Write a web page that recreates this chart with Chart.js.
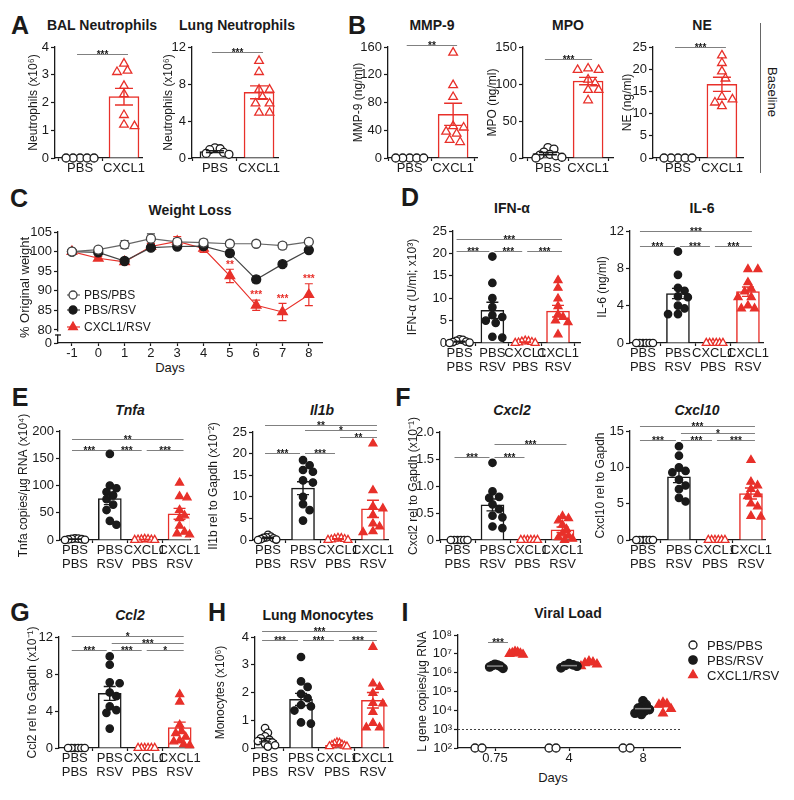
<!DOCTYPE html>
<html>
<head>
<meta charset="utf-8">
<script src="https://cdn.jsdelivr.net/npm/chart.js@4.4.1/dist/chart.umd.min.js"></script>
<style>
  body { margin: 0; background: #fff; width: 794px; height: 800px; position: relative; overflow: hidden;
         font-family: "Liberation Sans", Arial, sans-serif; color: #1a1a1a; }
  canvas { position: absolute; }
  .t { position: absolute; font-weight: bold; font-size: 14px; transform: translate(-50%, -50%); white-space: nowrap; }
  .i { font-style: italic; }
  .L { position: absolute; font-weight: bold; font-size: 25px; transform: translate(-50%, -50%);
       font-family: "Liberation Sans Narrow", "Liberation Sans", Arial, sans-serif; }
  .ax { position: absolute; font-size: 13px; transform: translate(-50%, -50%); white-space: nowrap; }
</style>
</head>
<body>
<div class="L" style="left:20px;top:25px">A</div>
<div class="L" style="left:357px;top:25px">B</div>
<div class="L" style="left:19px;top:198px">C</div>
<div class="L" style="left:410px;top:197px">D</div>
<div class="L" style="left:20px;top:397px">E</div>
<div class="L" style="left:403px;top:397px">F</div>
<div class="L" style="left:20px;top:612px">G</div>
<div class="L" style="left:217px;top:612px">H</div>
<div class="L" style="left:405px;top:612px">I</div>

<div class="t" style="left:102px;top:25px">BAL Neutrophils</div>
<div class="t" style="left:237px;top:25px">Lung Neutrophils</div>
<div class="t" style="left:432px;top:25px">MMP-9</div>
<div class="t" style="left:568px;top:25px">MPO</div>
<div class="t" style="left:702px;top:25px">NE</div>
<div class="t" style="left:190px;top:210px">Weight Loss</div>
<div class="t" style="left:512px;top:208px">IFN-α</div>
<div class="t" style="left:702px;top:208px">IL-6</div>
<div class="t i" style="left:130px;top:410px">Tnfa</div>
<div class="t i" style="left:322px;top:410px">Il1b</div>
<div class="t i" style="left:512px;top:410px">Cxcl2</div>
<div class="t i" style="left:697px;top:410px">Cxcl10</div>
<div class="t i" style="left:130px;top:615px">Ccl2</div>
<div class="t" style="left:318px;top:615px">Lung Monocytes</div>
<div class="t" style="left:568px;top:613px">Viral Load</div>

<div class="ax" style="left:170px;top:367px">Days</div>
<div class="ax" style="left:553px;top:777px">Days</div>
<div style="position:absolute;left:760px;top:23px;width:0;height:150px;border-left:1px solid #666"></div>
<div class="ax" style="left:772px;top:92px;transform:translate(-50%,-50%) rotate(90deg)">Baseline</div>

<script>
// ---- data ----
var twoGroups = ['PBS', 'CXCL1'];
var fourGroups = [['PBS', 'PBS'], ['PBS', 'RSV'], ['CXCL1', 'PBS'], ['CXCL1', 'RSV']];

// A
var balVals = [[0, 0, 0, 0, 0], [3.4, 3.15, 3.1, 2.6, 2.3, 1.55, 1.2, 1.15]];
var balMean = [0, 2.21];
var balSem = [0, 0.3];
var balSig = [[0, 1, 3.75, '***']];
var lungVals = [[1.1, 1.0, 0.9, 0.6, 0.5, 0.4], [10.5, 9.3, 7.4, 7.4, 6.6, 5.9, 5.9, 4.9, 4.9]];
var lungMean = [0.7, 7.1];
var lungSem = [0.1, 0.7];
var lungSig = [[0, 1, 11.45, '***']];

// B
var mmp9Vals = [[0, 0, 0, 0, 0], [152, 105, 88, 46, 44, 38, 35, 26, 23]];
var mmp9Mean = [0, 63];
var mmp9Sem = [0, 16];
var mmp9Sig = [[0, 1, 163, '**']];
var mpoVals = [[14, 12, 8, 5, 4, 3, 1, 0], [121, 119, 119, 106, 101, 92, 92, 78]];
var mpoMean = [5.9, 104];
var mpoSem = [1.6, 5];
var mpoSig = [[0, 1, 133.7, '***']];
var neVals = [[0, 0, 0, 0, 0], [23.1, 21.4, 19.5, 17.9, 13.8, 13.2, 12.5, 11.7]];
var neMean = [0, 16.6];
var neSem = [0, 1.6];
var neSig = [[0, 1, 25.1, '***']];

// C
var days = [-1, 0, 1, 2, 3, 4, 5, 6, 7, 8];
var wPbsPbs = [100, 100.5, 101.8, 103.3, 102.5, 102.3, 102.0, 102.0, 101.5, 102.5];
var wPbsPbsSem = [0, 0.5, 1.0, 1.2, 0.8, 0.8, 0.6, 0.6, 0.8, 0.5];
var wPbsRsv = [100, 99.8, 97.6, 101.0, 101.3, 101.4, 99.6, 92.9, 96.8, 100.4];
var wPbsRsvSem = [0, 0.4, 0.5, 0.6, 0.6, 0.5, 0.7, 0.8, 0.6, 0.6];
var wCxRsv = [100, 98.3, 97.4, 101.3, 102.6, 100.8, 93.8, 86.3, 84.6, 89.0];
var wCxRsvSem = [0, 0.5, 0.6, 0.8, 1.2, 1.0, 1.7, 1.3, 2.2, 2.8];
var wStars = [[5, 97.1, '**'], [6, 89.4, '***'], [7, 88.4, '***'], [8, 93.5, '***']];
var wTicks = [80, 85, 90, 95, 100, 105];

// D
var ifnVals = [[0.8, 0.7, 0.5, 0.3, 0.2, 0.1, 0], [19.3, 13.4, 10.0, 8.0, 6.2, 5.8, 5.0, 4.5, 1.4, 1.2],
               [0.5, 0.4, 0.3, 0.2, 0.1, 0, 0], [14.0, 12.3, 9.9, 8.2, 6.4, 5.8, 5.0, 4.6, 1.9]];
var ifnMean = [0.3, 7.3, 0.2, 7.1];
var ifnSem = [0.1, 1.8, 0.06, 1.3];
var ifnSig = [[0, 3, 23.3, '***'], [0, 1, 20.5, '***'], [1, 2, 20.5, '***'], [2, 3, 20.5, '***']];
var il6Vals = [[0, 0, 0, 0, 0, 0], [9.8, 7.3, 5.9, 5.6, 5.0, 4.9, 4.0, 3.7, 3.1, 3.1],
               [0, 0, 0, 0, 0, 0], [7.9, 7.9, 6.5, 5.8, 5.5, 4.9, 4.9, 4.0, 3.7, 3.7]];
var il6Mean = [0, 5.3, 0, 5.5];
var il6Sem = [0, 0.55, 0, 0.5];
var il6Sig = [[0, 3, 12, '***'], [0, 1, 10.4, '***'], [1, 2, 10.4, '***'], [2, 3, 10.4, '***']];

// E
var tnfVals = [[3, 2.5, 2, 1.5, 1, 0.5, 0], [158, 100, 95, 88, 82, 75, 65, 55, 35, 28],
               [2, 1.5, 1, 0.5, 0.5, 0, 0], [105, 80, 78, 55, 45, 40, 26, 15, 12, 10]];
var tnfMean = [1.5, 76, 0.8, 48];
var tnfSem = [0.4, 11, 0.3, 10];
var tnfSig = [[0, 3, 185, '**'], [0, 1, 166, '***'], [1, 2, 166, '***'], [2, 3, 166, '***']];
var il1bVals = [[1.2, 0.8, 0.6, 0.5, 0.4, 0.2, 0.1, 0], [18.5, 17.3, 16.2, 15.8, 13.8, 13.3, 10.0, 8.3, 6.9, 4.5],
                [0.5, 0.4, 0.3, 0.2, 0.1, 0, 0], [22.3, 11.5, 7.8, 7.3, 5.8, 3.8, 3.1, 2.0, 1.8]];
var il1bMean = [0.5, 12, 0.25, 7.2];
var il1bSem = [0.15, 1.5, 0.07, 2.0];
var il1bSig = [[0, 3, 26.7, '**'], [1, 3, 25.4, '*'], [2, 3, 23.8, '**'], [0, 1, 20.2, '***'], [1, 2, 20.2, '***']];

// F
var cxcl2Vals = [[0, 0, 0, 0, 0, 0], [1.43, 0.9, 0.8, 0.78, 0.66, 0.57, 0.45, 0.42, 0.25, 0.22],
                 [0, 0, 0, 0, 0, 0], [0.44, 0.4, 0.36, 0.28, 0.2, 0.12, 0.08, 0.05, 0.02, 0]];
var cxcl2Mean = [0, 0.65, 0, 0.19];
var cxcl2Sem = [0, 0.11, 0, 0.05];
var cxcl2Sig = [[1, 3, 1.77, '***'], [0, 1, 1.54, '***'], [1, 2, 1.54, '***']];
var cxcl10Vals = [[0, 0, 0, 0, 0, 0], [12.9, 11.6, 10.0, 9.5, 9.3, 8.3, 7.5, 7.0, 5.8, 5.3],
                  [0, 0, 0, 0, 0, 0], [11.0, 8.0, 7.5, 7.0, 6.3, 6.0, 5.0, 4.6, 3.3, 3.2]];
var cxcl10Mean = [0, 8.7, 0, 6.4];
var cxcl10Sem = [0, 0.8, 0, 0.75];
var cxcl10Sig = [[0, 3, 15.7, '***'], [1, 3, 14.7, '*'], [0, 1, 13.8, '***'], [1, 2, 13.8, '***'], [2, 3, 13.8, '***']];

// G
var ccl2Vals = [[0, 0, 0, 0, 0, 0], [9.9, 9.0, 7.1, 7.0, 6.0, 5.6, 4.5, 4.1, 3.8, 2.1],
                [0, 0, 0, 0, 0, 0], [5.8, 5.0, 2.5, 1.8, 1.6, 1.2, 0.8, 0.7, 0.4, 0.3]];
var ccl2Mean = [0, 5.9, 0, 2.2];
var ccl2Sem = [0, 0.75, 0, 0.6];
var ccl2Sig = [[0, 3, 12.1, '*'], [1, 3, 11.4, '***'], [0, 1, 10.6, '***'], [1, 2, 10.6, '***'], [2, 3, 10.6, '*']];

// H
var monoVals = [[0.72, 0.55, 0.42, 0.35, 0.3, 0.25, 0.2, 0.15, 0.1, 0.05], [3.28, 2.4, 2.2, 1.95, 1.8, 1.55, 1.5, 1.35, 0.92, 0.88],
                [0.2, 0.18, 0.15, 0.12, 0.1, 0.08, 0.06, 0.05], [3.64, 2.32, 2.2, 1.98, 1.62, 1.6, 1.3, 0.9, 0.74, 0.74]];
var monoMean = [0.28, 1.75, 0.1, 1.72];
var monoSem = [0.06, 0.22, 0.02, 0.28];
var monoSig = [[0, 3, 4.2, '***'], [0, 1, 3.9, '***'], [1, 2, 3.9, '***'], [2, 3, 3.9, '***']];

// I
var vlDays = ['0.75', '4', '8'];
var vlPbsPbs = [[100, 100], [100, 100], [100, 100]];
var vlPbsRsv = [[2.5e6, 2.2e6, 2.0e6, 1.7e6, 2.8e6, 2.4e6], [2.6e6, 2.2e6, 1.8e6, 3.0e6, 2.4e6],
                [3.2e4, 2.0e4, 1.5e4, 1.3e4, 1.1e4, 9e3, 7e3, 6e3]];
var vlCxRsv = [[1.3e7, 1.1e7, 1.0e7, 9e6, 1.2e7, 1.05e7], [4e6, 3.2e6, 2.8e6, 2.2e6, 3.5e6],
               [2.6e4, 2.2e4, 2.0e4, 1.2e4, 7e3]];
var vlLimit = 1000;
var vlSig = [[0, 4.5e7, '***']];

// ---- drawing ----
var FONT = '"Liberation Sans", Arial, sans-serif';
var INK = '#1a1a1a', RED = '#e8302a', GREY = '#808080';
var PAD_T = 24;
Chart.defaults.font.family = FONT;
Chart.defaults.color = INK;

var twoStyles = [{ shape: 'circle', color: INK, fill: false, r: 4 }, { shape: 'triangle', color: RED, fill: false, r: 5 }];
var fourStyles = [{ shape: 'circle', color: INK, fill: false, r: 3.7 }, { shape: 'circle', color: INK, fill: true, r: 3.7 },
                  { shape: 'triangle', color: RED, fill: false, r: 4.6 }, { shape: 'triangle', color: RED, fill: true, r: 4.6 }];

function makeCanvas(box) {
  var c = document.createElement('canvas');
  var left = box.left - box.yw, top = box.top - PAD_T;
  var w = box.right + (box.pr || 12) - left, h = box.bottom + box.xh - top;
  c.width = w; c.height = h;
  c.style.left = left + 'px'; c.style.top = top + 'px';
  c.style.width = w + 'px'; c.style.height = h + 'px';
  document.body.appendChild(c);
  return c;
}

// spread points sideways so equal values don't hide each other; squeeze if the row gets too wide
function swarm(vals, toPx, dist, step, maxHalf) {
  var placed = [], off = [];
  var idx = vals.map(function (v, i) { return i; });
  idx.sort(function (a, b) { return vals[b] - vals[a]; });
  idx.forEach(function (i) {
    var py = toPx(vals[i]), dx = 0;
    for (var k = 0; k < 60; k++) {
      dx = k === 0 ? 0 : (k % 2 ? 1 : -1) * Math.ceil(k / 2) * step;
      var hit = placed.some(function (p) {
        return (p[0] - dx) * (p[0] - dx) + (p[1] - py) * (p[1] - py) < dist * dist;
      });
      if (!hit) break;
    }
    placed.push([dx, py]);
    off[i] = dx;
  });
  var widest = Math.max.apply(null, off.map(Math.abs));
  if (widest > maxHalf) off = off.map(function (d) { return d * maxHalf / widest; });
  return off;
}

function mark(ctx, shape, x, y, r, fill, stroke) {
  ctx.beginPath();
  if (shape === 'triangle') {
    for (var k = 0; k < 3; k++) {
      var a = k * 2 * Math.PI / 3;
      ctx[k ? 'lineTo' : 'moveTo'](x + Math.sin(a) * r, y - Math.cos(a) * r);
    }
    ctx.closePath();
  } else {
    ctx.arc(x, y, r, 0, Math.PI * 2);
  }
  ctx.fillStyle = fill; ctx.fill();
  ctx.strokeStyle = stroke; ctx.lineWidth = 1.3; ctx.stroke();
}

function gridOpts() {
  return { display: true, drawOnChartArea: false, drawTicks: true, tickLength: 4, color: INK, tickWidth: 1.2 };
}

function dotBar(box, p) {
  var c = makeCanvas(box);
  var two = p.vals.length === 2;
  var styles = two ? twoStyles : fourStyles;
  var labels = two ? twoGroups : fourGroups;
  var pxX = (box.right - box.left) / (box.xmax - box.xmin);
  var pxY = (box.bottom - box.top) / p.ymax;
  var dist = two ? 7.5 : 7, step = two ? 3.5 : 3.3, maxHalf = two ? 14 : 10;
  var datasets = [{
    type: 'bar', order: 2,
    data: p.mean.map(function (m, i) { return { x: i, y: m }; }),
    backgroundColor: '#fff',
    borderColor: styles.map(function (s) { return s.color; }),
    borderWidth: 1.5,
    barThickness: two ? 30 : 23
  }];
  p.vals.forEach(function (g, i) {
    var st = styles[i];
    var off = swarm(g, function (v) { return v * pxY; }, dist, step, maxHalf);
    datasets.push({
      type: 'scatter', order: 1, clip: false,
      data: g.map(function (v, k) { return { x: i + off[k] / pxX, y: v }; }),
      pointStyle: st.shape, pointRadius: st.r,
      pointBackgroundColor: st.fill ? st.color : '#fff',
      pointBorderColor: st.color, pointBorderWidth: 1.3
    });
  });
  var cap = two ? 9 : 6;
  new Chart(c, {
    type: 'bar',
    data: { datasets: datasets },
    options: {
      responsive: false, animation: false, events: [], devicePixelRatio: 1,
      layout: { padding: { top: PAD_T, right: box.pr || 12, left: 0, bottom: 0 } },
      plugins: { legend: { display: false }, tooltip: { enabled: false } },
      scales: {
        x: {
          type: 'linear', min: box.xmin, max: box.xmax, offset: false,
          afterBuildTicks: function (s) { s.ticks = labels.map(function (l, i) { return { value: i }; }); },
          ticks: { callback: function (v) { return labels[v]; }, autoSkip: false, maxRotation: 0,
                   font: { size: 13, lineHeight: 1.1 }, color: INK, padding: 0 },
          grid: Object.assign(gridOpts(), { tickLength: 3 }),
          border: { display: true, color: INK, width: 1.3 },
          afterFit: function (s) { s.height = box.xh; }
        },
        y: {
          type: 'linear', min: 0, max: p.ymax,
          ticks: { stepSize: p.step, font: { size: 13 }, color: INK, padding: 2, autoSkip: false },
          grid: gridOpts(),
          border: { display: true, color: INK, width: 1.3 },
          title: { display: true, text: p.ytitle, font: { size: 12 }, padding: 0, color: INK },
          afterFit: function (s) { s.width = box.yw; }
        }
      }
    },
    plugins: [{
      id: 'errs',
      afterDatasetsDraw: function (ch) {
        var ctx = ch.ctx, xs = ch.scales.x, ys = ch.scales.y;
        ctx.save();
        ctx.lineWidth = 1.4;
        p.mean.forEach(function (m, i) {
          if (!p.sem[i]) return;
          var x = xs.getPixelForValue(i);
          var y1 = ys.getPixelForValue(m + p.sem[i]), y2 = ys.getPixelForValue(Math.max(m - p.sem[i], 0));
          ctx.strokeStyle = styles[i].color;
          ctx.beginPath();
          ctx.moveTo(x, y1); ctx.lineTo(x, y2);
          ctx.moveTo(x - cap, y1); ctx.lineTo(x + cap, y1);
          ctx.moveTo(x - cap, y2); ctx.lineTo(x + cap, y2);
          ctx.stroke();
        });
        ctx.strokeStyle = GREY; ctx.lineWidth = 1; ctx.fillStyle = INK;
        ctx.font = 'bold 10px ' + FONT; ctx.textAlign = 'center'; ctx.textBaseline = 'alphabetic';
        var n = p.vals.length;
        p.sig.forEach(function (s) {
          var x1 = xs.getPixelForValue(s[0]) + (s[0] === 0 ? -3 : 2);
          var x2 = xs.getPixelForValue(s[1]) + (s[1] === n - 1 ? 4 : -3);
          var y = Math.round(ys.getPixelForValue(s[2])) + 0.5;
          ctx.beginPath(); ctx.moveTo(x1, y); ctx.lineTo(x2, y); ctx.stroke();
          ctx.fillText(s[3], (x1 + x2) / 2, y + 3.5);
        });
        ctx.restore();
      }
    }]
  });
}

dotBar({ left: 55, top: 47, right: 142, bottom: 158, xmin: -0.57, xmax: 1.41, yw: 29, xh: 24 },
  { vals: balVals, mean: balMean, sem: balSem, sig: balSig, ymax: 4, step: 1, ytitle: 'Neutrophils (x10⁶)' });
dotBar({ left: 192, top: 47, right: 278, bottom: 158, xmin: -0.52, xmax: 1.43, yw: 31, xh: 24 },
  { vals: lungVals, mean: lungMean, sem: lungSem, sig: lungSig, ymax: 12, step: 4, ytitle: 'Neutrophils (x10⁶)' });
dotBar({ left: 388, top: 47, right: 477, bottom: 158, xmin: -0.5, xmax: 1.55, yw: 37, xh: 24 },
  { vals: mmp9Vals, mean: mmp9Mean, sem: mmp9Sem, sig: mmp9Sig, ymax: 160, step: 40, ytitle: 'MMP-9 (ng/ml)' });
dotBar({ left: 523, top: 47, right: 613, bottom: 158, xmin: -0.62, xmax: 1.62, yw: 38, xh: 24 },
  { vals: mpoVals, mean: mpoMean, sem: mpoSem, sig: mpoSig, ymax: 150, step: 50, ytitle: 'MPO (ng/ml)' });
dotBar({ left: 653, top: 47, right: 743, bottom: 158, xmin: -0.57, xmax: 1.48, yw: 33, xh: 24 },
  { vals: neVals, mean: neMean, sem: neSem, sig: neSig, ymax: 25, step: 5, ytitle: 'NE (ng/ml)' });

dotBar({ left: 453, top: 231, right: 580, bottom: 343, xmin: -0.2, xmax: 3.67, yw: 48, xh: 38 },
  { vals: ifnVals, mean: ifnMean, sem: ifnSem, sig: ifnSig, ymax: 25, step: 5, ytitle: 'IFN-α (U/ml; x10³)' });
dotBar({ left: 630, top: 231, right: 763, bottom: 343, xmin: -0.37, xmax: 3.43, yw: 35, xh: 38 },
  { vals: il6Vals, mean: il6Mean, sem: il6Sem, sig: il6Sig, ymax: 12, step: 4, ytitle: 'IL-6 (ng/ml)' });
dotBar({ left: 60, top: 431, right: 190, bottom: 540, xmin: -0.43, xmax: 3.3, yw: 44, xh: 38 },
  { vals: tnfVals, mean: tnfMean, sem: tnfSem, sig: tnfSig, ymax: 200, step: 50, ytitle: 'Tnfa copies/µg RNA (x10⁴)' });
dotBar({ left: 253, top: 432, right: 388, bottom: 540, xmin: -0.43, xmax: 3.43, yw: 47, xh: 38 },
  { vals: il1bVals, mean: il1bMean, sem: il1bSem, sig: il1bSig, ymax: 25, step: 5, ytitle: 'Il1b rel to Gapdh (x10⁻²)' });
dotBar({ left: 440, top: 432, right: 580, bottom: 540, xmin: -0.5, xmax: 3.5, yw: 34, xh: 38 },
  { vals: cxcl2Vals, mean: cxcl2Mean, sem: cxcl2Sem, sig: cxcl2Sig, ymax: 2, step: 0.5, ytitle: 'Cxcl2 rel to Gapdh (x10⁻¹)' });
dotBar({ left: 630, top: 431, right: 765, bottom: 540, xmin: -0.36, xmax: 3.39, yw: 37, xh: 38 },
  { vals: cxcl10Vals, mean: cxcl10Mean, sem: cxcl10Sem, sig: cxcl10Sig, ymax: 15, step: 5, ytitle: 'Cxcl10 rel to Gapdh' });
dotBar({ left: 59, top: 637, right: 193, bottom: 748, xmin: -0.45, xmax: 3.38, yw: 34, xh: 38 },
  { vals: ccl2Vals, mean: ccl2Mean, sem: ccl2Sem, sig: ccl2Sig, ymax: 12, step: 4, ytitle: 'Ccl2 rel to Gapdh (x10⁻¹)' });
dotBar({ left: 255, top: 637, right: 388, bottom: 748, xmin: -0.28, xmax: 3.42, yw: 42, xh: 38 },
  { vals: monoVals, mean: monoMean, sem: monoSem, sig: monoSig, ymax: 4, step: 1, ytitle: 'Monocytes (x10⁶)' });

// ---- C: weight loss ----
(function () {
  var box = { left: 58, top: 232, right: 322, bottom: 343, yw: 40, xh: 24 };
  var yMin = 76.68;
  var series = [
    { vals: wPbsPbs, sem: wPbsPbsSem, shape: 'circle', r: 4.5, fill: '#fff', color: '#444', line: '#666' },
    { vals: wPbsRsv, sem: wPbsRsvSem, shape: 'circle', r: 4.5, fill: INK, color: INK, line: '#444' },
    { vals: wCxRsv, sem: wCxRsvSem, shape: 'triangle', r: 5.5, fill: RED, color: RED, line: RED }
  ];
  var names = ['PBS/PBS', 'PBS/RSV', 'CXCL1/RSV'];
  var c = makeCanvas(box);
  new Chart(c, {
    type: 'line',
    data: {
      datasets: series.map(function (s) {
        return {
          data: s.vals.map(function (v, i) { return { x: days[i], y: v }; }),
          borderColor: s.line, borderWidth: 1.2, clip: false,
          pointStyle: s.shape, pointRadius: s.r, pointBackgroundColor: s.fill,
          pointBorderColor: s.color, pointBorderWidth: 1.3
        };
      })
    },
    options: {
      responsive: false, animation: false, events: [], devicePixelRatio: 1,
      layout: { padding: { top: PAD_T, right: 12, left: 0, bottom: 0 } },
      plugins: { legend: { display: false }, tooltip: { enabled: false } },
      scales: {
        x: {
          type: 'linear', min: -1.53, max: 8.5,
          afterBuildTicks: function (s) { s.ticks = days.map(function (d) { return { value: d }; }); },
          ticks: { font: { size: 13 }, color: INK, padding: 0, autoSkip: false, maxRotation: 0 },
          grid: Object.assign(gridOpts(), { tickLength: 3 }),
          border: { display: true, color: INK, width: 1.3 },
          afterFit: function (s) { s.height = box.xh; }
        },
        y: {
          type: 'linear', min: yMin, max: 105,
          afterBuildTicks: function (s) {
            s.ticks = [{ value: yMin }].concat(wTicks.map(function (t) { return { value: t }; }));
          },
          ticks: { font: { size: 13 }, color: INK, padding: 2, autoSkip: false,
                   callback: function (v) { return v === yMin ? '0' : v; } },
          grid: gridOpts(),
          border: { display: true, color: INK, width: 1.3 },
          title: { display: true, text: '% Original weight', font: { size: 13 }, padding: 0, color: INK },
          afterFit: function (s) { s.width = box.yw; }
        }
      }
    },
    plugins: [{
      id: 'wextra',
      beforeDatasetsDraw: function (ch) {
        var ctx = ch.ctx, xs = ch.scales.x, ys = ch.scales.y;
        ctx.save();
        ctx.lineWidth = 1.2;
        series.forEach(function (s) {
          ctx.strokeStyle = s.color;
          s.vals.forEach(function (v, i) {
            if (!s.sem[i]) return;
            var x = xs.getPixelForValue(days[i]);
            var y1 = ys.getPixelForValue(v + s.sem[i]), y2 = ys.getPixelForValue(v - s.sem[i]);
            ctx.beginPath();
            ctx.moveTo(x, y1); ctx.lineTo(x, y2);
            ctx.moveTo(x - 4, y1); ctx.lineTo(x + 4, y1);
            ctx.moveTo(x - 4, y2); ctx.lineTo(x + 4, y2);
            ctx.stroke();
          });
        });
        ctx.restore();
      },
      afterDraw: function (ch) {
        var ctx = ch.ctx, xs = ch.scales.x, ys = ch.scales.y, a = ch.chartArea;
        ctx.save();
        // axis break between 0 and 80
        var yb = ys.getPixelForValue(80);
        ctx.fillStyle = '#fff';
        ctx.fillRect(a.left - 2, yb + 1.5, 4, 3);
        ctx.strokeStyle = INK; ctx.lineWidth = 1.3;
        ctx.beginPath(); ctx.moveTo(a.left - 3, yb + 5); ctx.lineTo(a.left + 3, yb + 5); ctx.stroke();
        // stars
        ctx.fillStyle = RED; ctx.font = 'bold 10px ' + FONT; ctx.textAlign = 'center'; ctx.textBaseline = 'middle';
        wStars.forEach(function (s) { ctx.fillText(s[2], xs.getPixelForValue(s[0]), ys.getPixelForValue(s[1]) + 2); });
        // legend
        ctx.font = '12px ' + FONT; ctx.textAlign = 'left';
        var rows = [63, 78, 95];
        series.forEach(function (s, i) {
          var x = a.left + 15, y = a.top + rows[i];
          ctx.strokeStyle = s.line; ctx.lineWidth = 1.2;
          ctx.beginPath(); ctx.moveTo(x - 6, y); ctx.lineTo(x + 7, y); ctx.stroke();
          mark(ctx, s.shape, x, y, s.r - 0.5, s.fill, s.color);
          ctx.fillStyle = INK;
          ctx.fillText(names[i], x + 11, y + 1);
        });
        ctx.restore();
      }
    }]
  });
})();

// ---- I: viral load ----
(function () {
  var box = { left: 458, top: 635, right: 680, bottom: 748, yw: 43, xh: 24, pr: 110 };
  var shift = [-0.27, 0, 0.27];
  var groups = [
    { vals: vlPbsPbs, shape: 'circle', r: 4, fill: '#fff', color: INK, name: 'PBS/PBS' },
    { vals: vlPbsRsv, shape: 'circle', r: 4.2, fill: INK, color: INK, name: 'PBS/RSV' },
    { vals: vlCxRsv, shape: 'triangle', r: 5, fill: RED, color: RED, name: 'CXCL1/RSV' }
  ];
  var pxX = (box.right - box.left) / 3;
  var pxDec = (box.bottom - box.top) / 6;
  var sup = { '0': '⁰', '1': '¹', '2': '²', '3': '³', '4': '⁴', '5': '⁵', '6': '⁶', '7': '⁷', '8': '⁸', '9': '⁹' };
  var c = makeCanvas(box);
  new Chart(c, {
    type: 'scatter',
    data: {
      datasets: groups.map(function (g, gi) {
        var pts = [];
        g.vals.forEach(function (dayVals, d) {
          var off = swarm(dayVals, function (v) { return Math.log10(v) * pxDec; }, 7, 3.5, 8);
          dayVals.forEach(function (v, k) { pts.push({ x: d + shift[gi] + off[k] / pxX, y: v }); });
        });
        return {
          data: pts, clip: false,
          pointStyle: g.shape, pointRadius: g.r, pointBackgroundColor: g.fill,
          pointBorderColor: g.color, pointBorderWidth: 1.3
        };
      })
    },
    options: {
      responsive: false, animation: false, events: [], devicePixelRatio: 1,
      layout: { padding: { top: PAD_T, right: box.pr, left: 0, bottom: 0 } },
      plugins: { legend: { display: false }, tooltip: { enabled: false } },
      scales: {
        x: {
          type: 'linear', min: -0.5, max: 2.5,
          afterBuildTicks: function (s) { s.ticks = vlDays.map(function (l, i) { return { value: i }; }); },
          ticks: { callback: function (v) { return vlDays[v]; }, font: { size: 13 }, color: INK, padding: 0,
                   autoSkip: false, maxRotation: 0 },
          grid: Object.assign(gridOpts(), { tickLength: 3 }),
          border: { display: true, color: INK, width: 1.3 },
          afterFit: function (s) { s.height = box.xh; }
        },
        y: {
          type: 'logarithmic', min: 100, max: 1e8,
          afterBuildTicks: function (s) {
            s.ticks = s.ticks.filter(function (t) { var e = Math.log10(t.value); return Math.abs(e - Math.round(e)) < 1e-6; });
          },
          ticks: { font: { size: 13 }, color: INK, padding: 2, autoSkip: false,
                   callback: function (v) { return '10' + sup[String(Math.round(Math.log10(v)))]; } },
          grid: gridOpts(),
          border: { display: true, color: INK, width: 1.3 },
          title: { display: true, text: 'L gene copies/µg RNA', font: { size: 12 }, padding: 0, color: INK },
          afterFit: function (s) { s.width = box.yw; }
        }
      }
    },
    plugins: [{
      id: 'vlextra',
      beforeDatasetsDraw: function (ch) {
        var ctx = ch.ctx, ys = ch.scales.y, a = ch.chartArea;
        ctx.save();
        ctx.strokeStyle = '#444'; ctx.lineWidth = 1; ctx.setLineDash([2, 2]);
        var y = Math.round(ys.getPixelForValue(vlLimit)) + 0.5;
        ctx.beginPath(); ctx.moveTo(a.left, y); ctx.lineTo(a.right + 2, y); ctx.stroke();
        ctx.restore();
      },
      afterDatasetsDraw: function (ch) {
        var ctx = ch.ctx, xs = ch.scales.x, ys = ch.scales.y, a = ch.chartArea;
        ctx.save();
        // group means (geometric)
        ctx.lineWidth = 1.5;
        groups.forEach(function (g, gi) {
          if (gi === 0) return;
          ctx.strokeStyle = gi === 1 ? '#888' : g.color;
          g.vals.forEach(function (dv, d) {
            var lm = dv.reduce(function (s, v) { return s + Math.log10(v); }, 0) / dv.length;
            var x = xs.getPixelForValue(d + shift[gi]), y = ys.getPixelForValue(Math.pow(10, lm));
            ctx.beginPath(); ctx.moveTo(x - 8, y); ctx.lineTo(x + 8, y); ctx.stroke();
          });
        });
        // significance
        ctx.strokeStyle = GREY; ctx.lineWidth = 1; ctx.fillStyle = INK;
        ctx.font = 'bold 10px ' + FONT; ctx.textAlign = 'center';
        vlSig.forEach(function (s) {
          var x1 = xs.getPixelForValue(s[0] + shift[1]) - 7, x2 = xs.getPixelForValue(s[0] + shift[2]) - 7;
          var y = Math.round(ys.getPixelForValue(s[1])) + 0.5;
          ctx.beginPath(); ctx.moveTo(x1, y); ctx.lineTo(x2, y); ctx.stroke();
          ctx.fillText(s[2], (x1 + x2) / 2, y + 3.5);
        });
        // legend
        ctx.font = '13px ' + FONT; ctx.textAlign = 'left'; ctx.textBaseline = 'middle';
        groups.forEach(function (g, i) {
          var x = a.right + 13, y = a.top + 10 + i * 15;
          mark(ctx, g.shape, x, y, g.r, g.fill, g.color);
          ctx.fillStyle = INK;
          ctx.fillText(g.name, x + 14, y + 1);
        });
        ctx.restore();
      }
    }]
  });
})();
</script>
</body>
</html>
